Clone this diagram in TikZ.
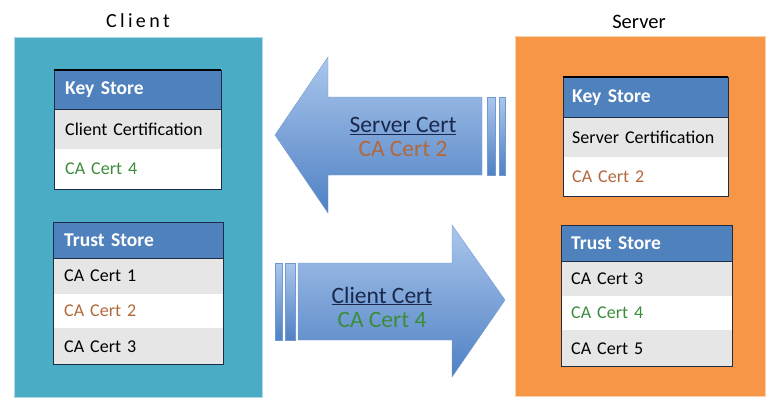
\documentclass[tikz,border=0pt]{standalone}
\usepackage{fontspec}
\setmainfont{Carlito}
\usetikzlibrary{positioning}
\definecolor{clientteal}{RGB}{75,172,198}
\definecolor{serverorange}{RGB}{247,150,70}
\definecolor{hdrblue}{RGB}{79,129,189}
\definecolor{rowgrey}{RGB}{230,230,230}
\definecolor{tabline}{RGB}{30,45,70}
\definecolor{certgreen}{RGB}{60,140,60}
\definecolor{certbrown}{RGB}{178,104,58}
\definecolor{arrowlight}{RGB}{170,198,236}
\definecolor{arrowdark}{RGB}{79,129,196}
\definecolor{labelnavy}{RGB}{25,40,75}
\tikzset{
  panel/.style={minimum width=#1, minimum height=360, anchor=north west, line width=1.2pt},
  hdr/.style={fill=hdrblue, text=white, font=\fontsize{19.5}{22}\selectfont\bfseries,
    inner xsep=11pt, inner ysep=0pt, text width=#1, align=left, anchor=north west},
  cellrow/.style={font=\fontsize{18}{21}\selectfont, inner xsep=11pt, inner ysep=0pt,
    text width=#1, align=left, anchor=north west},
  frame/.style={draw=tabline, line width=0.9pt},
  bigarrow/.style={top color=arrowlight, bottom color=arrowdark, draw=arrowdark!80!white, line width=0.4pt},
  arrowtext/.style={font=\fontsize{23.5}{24}\selectfont, align=center}
}
\begin{document}
\begin{tikzpicture}[x=1pt,y=-1pt]
  \useasboundingbox (0,0) rectangle (766,405);
  % panels
  \node (client) [panel=248, fill=clientteal, draw=clientteal!45!white] at (14,37) {};
  \node (server) [panel=250, fill=serverorange, draw=serverorange!45!white] at (515,36) {};
  \node (clientlbl) at (138,21) {\fontsize{20}{22}\selectfont C\,l\,i\,e\,n\,t};
  \node (serverlbl) at (639,22) {\fontsize{20.5}{22}\selectfont Server};

  % client key store
  \node (ckh) [hdr=145, minimum height=39] at (54,70) {Key Store};
  \node (ck1) [cellrow=145, minimum height=39, fill=rowgrey] at (ckh.south west) {Client Certification};
  \node (ck2) [cellrow=145, minimum height=40, fill=white, text=certgreen] at (ck1.south west) {CA Cert 4};
  \draw[frame] (ckh.north west) rectangle (ck2.south east);
  \draw[frame] (ckh.south west) -- (ckh.south east);
  \draw[line width=2.2pt] (ckh.north west) -- (ckh.north east);

  % client trust store
  \node (cth) [hdr=148, minimum height=36] at (53,222) {Trust Store};
  \node (ct1) [cellrow=148, minimum height=35, fill=rowgrey] at (cth.south west) {CA Cert 1};
  \node (ct2) [cellrow=148, minimum height=34, fill=white, text=certbrown] at (ct1.south west) {CA Cert 2};
  \node (ct3) [cellrow=148, minimum height=36, fill=rowgrey] at (ct2.south west) {CA Cert 3};
  \draw[frame] (cth.north west) rectangle (ct3.south east);
  \draw[frame] (cth.south west) -- (cth.south east);

  % server key store
  \node (skh) [hdr=147, minimum height=40, inner xsep=9pt] at (563,77) {Key Store};
  \node (sk1) [cellrow=147, minimum height=39, fill=rowgrey, inner xsep=9pt] at (skh.south west) {Server Certification};
  \node (sk2) [cellrow=147, minimum height=39, fill=white, text=certbrown, inner xsep=9pt] at (sk1.south west) {CA Cert 2};
  \draw[frame] (skh.north west) rectangle (sk2.south east);
  \draw[frame] (skh.south west) -- (skh.south east);
  \draw[line width=2.2pt] (skh.north west) -- (skh.north east);

  % server trust store
  \node (sth) [hdr=151, minimum height=36, inner xsep=10pt] at (561,225) {Trust Store};
  \node (st1) [cellrow=151, minimum height=34, fill=rowgrey, inner xsep=10pt] at (sth.south west) {CA Cert 3};
  \node (st2) [cellrow=151, minimum height=34, fill=white, text=certgreen, inner xsep=10pt] at (st1.south west) {CA Cert 4};
  \node (st3) [cellrow=151, minimum height=36, fill=rowgrey, inner xsep=10pt] at (st2.south west) {CA Cert 5};
  \draw[frame] (sth.north west) rectangle (st3.south east);
  \draw[frame] (sth.south west) -- (sth.south east);

  % server cert arrow (to the client)
  \draw[bigarrow] (482,97) -- (328,97) -- (328,57) -- (275,135) -- (328,213)
    -- (328,175) -- (482,175) -- cycle;
  \draw[bigarrow] (487,97) rectangle (495,175);
  \draw[bigarrow] (499,97) rectangle (505,175);
  \node (srvcert) [arrowtext] at (403,137)
    {\textcolor{labelnavy}{\underline{Server Cert}}\\\textcolor{certbrown}{CA Cert 2}};

  % client cert arrow (to the server)
  \draw[bigarrow] (298,263) -- (452,263) -- (452,225) -- (505,300) -- (452,377)
    -- (452,340) -- (298,340) -- cycle;
  \draw[bigarrow] (275,263) rectangle (282,340);
  \draw[bigarrow] (285,263) rectangle (295,340);
  \node (clicert) [arrowtext] at (382,307)
    {\textcolor{labelnavy}{\underline{Client Cert}}\\\textcolor{certgreen}{CA Cert 4}};
\end{tikzpicture}
\end{document}
